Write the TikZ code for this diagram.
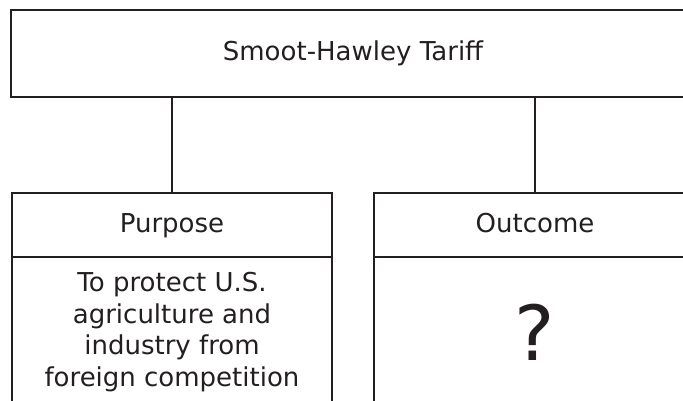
\documentclass[tikz,border=0pt]{standalone}
\usepackage{fontspec}
\setmainfont{DejaVu Sans}
\usepackage{tikz}
\usetikzlibrary{positioning}
\definecolor{ink}{HTML}{231F20}

\begin{document}
\begin{tikzpicture}[x=1pt,y=-1pt,
	box/.style={draw=ink,line width=1.8pt,rectangle,text=ink,inner sep=0pt,outer sep=0pt,
		font=\fontsize{26}{31.5}\selectfont,align=center},
	head/.style={box,minimum height=64pt,text height=18pt,text depth=4pt},
	link/.style={draw=ink,line width=1.8pt}]
	\clip (0,0) rectangle (683,401);
	\node[box,minimum width=684pt,minimum height=87pt] (tariff) at (353,53.5) {Smoot-Hawley Tariff};
	\node[head,minimum width=320pt] (purpose) at (172,225) {Purpose};
	\node[head,minimum width=322pt] (outcome) at (535,225) {Outcome};
	\node[box,minimum width=320pt,minimum height=150pt,below=0pt of purpose] (aim) {To protect U.S.\\agriculture and\\industry from\\foreign competition};
	\node[box,minimum width=322pt,minimum height=150pt,below=0pt of outcome,font=\fontsize{76}{80}\selectfont] (result) {?};
	
	\path [link] (purpose.north |- tariff.south) -- (purpose.north);
	\path [link] (outcome.north |- tariff.south) -- (outcome.north);
\end{tikzpicture}
\end{document}
